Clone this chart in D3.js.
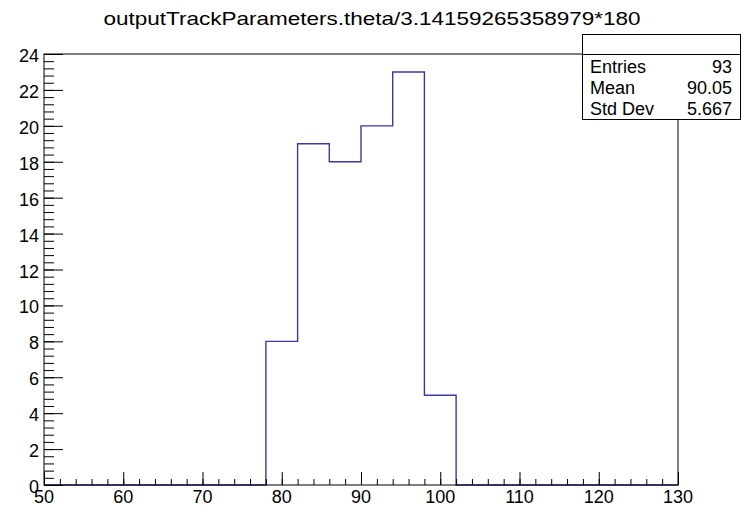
<!DOCTYPE html>
<html>
<head>
<meta charset="utf-8">
<script src="https://cdn.jsdelivr.net/npm/d3@7"></script>
<style>
  body { margin: 0; background: #fff; }
  svg text { font-family: "Liberation Sans", Arial, sans-serif; fill: #000; }
</style>
</head>
<body>
<svg id="hist" width="745" height="506"></svg>
<script>
var title = "outputTrackParameters.theta/3.14159265358979*180";

// bin edges (low) and counts, bin width 4 from 50 to 130
var binLow = [50, 54, 58, 62, 66, 70, 74, 78, 82, 86, 90, 94, 98, 102, 106, 110, 114, 118, 122, 126];
var counts = [0, 0, 0, 0, 0, 0, 0, 8, 19, 18, 20, 23, 5, 0, 0, 0, 0, 0, 0, 0];
var binWidth = 4;

var xTicks = [50, 60, 70, 80, 90, 100, 110, 120, 130];
var yTicks = [0, 2, 4, 6, 8, 10, 12, 14, 16, 18, 20, 22, 24];

var statLabels = ["Entries", "Mean", "Std Dev"];
var statValues = ["93", "90.05", "5.667"];

var frame = {left: 44, right: 678, top: 54, bottom: 485};

var svg = d3.select("#hist");

var xScale = d3.scaleLinear().domain([50, 130]).range([frame.left, frame.right]);
var yScale = d3.scaleLinear().domain([0, 24]).range([frame.bottom, frame.top]);

// title
svg.append("text")
  .attr("x", 372)
  .attr("y", 25)
  .attr("text-anchor", "middle")
  .attr("textLength", 537)
  .attr("lengthAdjust", "spacingAndGlyphs")
  .style("font-size", "19px")
  .text(title);

// histogram outline as steps
var pts = [];
binLow.forEach(function(lo, i) {
  pts.push([lo, counts[i]]);
  pts.push([lo + binWidth, counts[i]]);
});
pts.unshift([50, 0]);
pts.push([130, 0]);

var stepLine = d3.line()
  .x(function(d) { return xScale(d[0]); })
  .y(function(d) { return yScale(d[1]); });

svg.append("path")
  .attr("d", stepLine(pts))
  .attr("fill", "none")
  .attr("stroke", "#3838b0")
  .attr("stroke-width", 1.4);

// frame
svg.append("rect")
  .attr("x", frame.left)
  .attr("y", frame.top)
  .attr("width", frame.right - frame.left)
  .attr("height", frame.bottom - frame.top)
  .attr("fill", "none")
  .attr("stroke", "#000")
  .attr("stroke-width", 1);

// x axis: major ticks every 10, minor every 2
var xMinor = d3.range(50, 130.001, 2);
var xAxisMinor = d3.axisTop(xScale).tickValues(xMinor).tickSize(6).tickFormat("");
var xAxisMajor = d3.axisTop(xScale).tickValues(xTicks).tickSize(13).tickFormat("");

svg.append("g").attr("transform", "translate(0," + frame.bottom + ")").call(xAxisMinor);
svg.append("g").attr("transform", "translate(0," + frame.bottom + ")").call(xAxisMajor);

svg.selectAll(".xlab")
  .data(xTicks)
  .enter().append("text")
  .attr("class", "xlab")
  .attr("x", function(d) { return xScale(d); })
  .attr("y", 503)
  .attr("text-anchor", "middle")
  .style("font-size", "18px")
  .text(function(d) { return d; });

// y axis: major every 2, minor every 0.4
var yMinor = d3.range(0, 24.001, 0.4);
var yAxisMinor = d3.axisRight(yScale).tickValues(yMinor).tickSize(10).tickFormat("");
var yAxisMajor = d3.axisRight(yScale).tickValues(yTicks).tickSize(19).tickFormat("");

svg.append("g").attr("transform", "translate(" + frame.left + ",0)").call(yAxisMinor);
svg.append("g").attr("transform", "translate(" + frame.left + ",0)").call(yAxisMajor);

svg.selectAll("g .domain").remove();
svg.selectAll("g .tick line").attr("stroke", "#000");

svg.selectAll(".ylab")
  .data(yTicks)
  .enter().append("text")
  .attr("class", "ylab")
  .attr("x", 39)
  .attr("y", function(d) { return yScale(d) + 8; })
  .attr("text-anchor", "end")
  .style("font-size", "18px")
  .text(function(d) { return d; });

// stats box
var box = svg.append("g");
box.append("rect")
  .attr("x", 582.5).attr("y", 34.5)
  .attr("width", 158).attr("height", 85)
  .attr("fill", "#fff").attr("stroke", "#000");
box.append("line")
  .attr("x1", 582.5).attr("x2", 740.5)
  .attr("y1", 54.5).attr("y2", 54.5)
  .attr("stroke", "#000");

statLabels.forEach(function(lab, i) {
  var ty = 73 + i * 21;
  box.append("text").attr("x", 590).attr("y", ty)
    .style("font-size", "18px").text(lab);
  box.append("text").attr("x", 732).attr("y", ty)
    .attr("text-anchor", "end")
    .style("font-size", "18px").text(statValues[i]);
});
</script>
</body>
</html>
